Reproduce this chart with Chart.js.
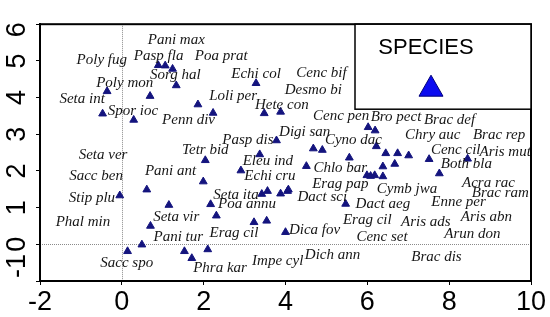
<!DOCTYPE html>
<html>
<head>
<meta charset="utf-8">
<script src="https://cdn.jsdelivr.net/npm/chart.js@4"></script>
<style>
  html, body { margin: 0; padding: 0; background: #fff; }
  #wrap { width: 550px; height: 317px; }
</style>
</head>
<body>
<div id="wrap"><canvas id="chart"></canvas></div>
<script>
// species scores (triangles)
const pointX = [-0.47, -0.36, 0.29, 0.69, 0.89, 1.06, 1.24, 1.33, 1.86, 2.23,
  3.28, 3.48, 3.88, 3.78, 3.37, 2.04, 2.91, 4.51, 1.99, 3.42,
  3.56, 3.88, 4.05, 4.07, 2.17, 2.31, 3.23, 3.54, 4.00, 6.02,
  6.19, 4.68, 4.90, 5.56, 6.22, 6.45, 6.74, 7.01, 7.51, 8.45,
  6.38, 6.67, 5.99, 6.08, 6.18, 6.38, 7.76, 5.47, -0.05, 0.61,
  1.15, 0.70, 0.49, 0.14, 1.53, 1.71, 2.10];
const pointY = [3.56, 4.17, 3.39, 4.04, 4.88, 4.87, 4.78, 4.33, 3.81, 3.58,
  4.39, 3.57, 3.61, 2.83, 2.45, 2.29, 2.01, 2.13, 1.71, 1.37,
  1.45, 1.38, 1.45, 1.49, 1.09, 0.78, 0.60, 0.64, 0.33, 3.19,
  3.10, 2.61, 2.57, 2.36, 2.67, 2.48, 2.48, 2.42, 2.32, 2.33,
  2.12, 2.19, 1.88, 1.86, 1.88, 1.85, 1.93, 1.10, 1.33, 1.49,
  1.07, 0.50, -0.01, -0.19, -0.19, -0.38, -0.14];

// species names, placed where they sit in the plot
const labelNames = ['Pani max', 'Poly fug', 'Pasp fla', 'Poa prat', 'Sorg hal', 'Echi col', 'Cenc bif', 'Desmo bi',
  'Poly mon', 'Seta int', 'Spor ioc', 'Loli per', 'Hete con', 'Penn div', 'Cenc pen', 'Bro pect',
  'Brac def', 'Digi san', 'Cyno dac', 'Chry auc', 'Brac rep', 'Pasp dis', 'Tetr bid', 'Cenc cil',
  'Aris mut', 'Eleu ind', 'Both bla', 'Pani ant', 'Echi cru', 'Chlo bar', 'Seta ver', 'Sacc ben',
  'Erag pap', 'Cymb jwa', 'Acra rac', 'Seta ita', 'Dact sci', 'Brac ram', 'Stip plu', 'Poa annu',
  'Dact aeg', 'Enne per', 'Seta vir', 'Phal min', 'Dica fov', 'Erag cil', 'Erag cil', 'Aris ads',
  'Aris abn', 'Pani tur', 'Cenc set', 'Arun don', 'Sacc spo', 'Phra kar', 'Impe cyl', 'Dich ann',
  'Brac dis'];
const labelX = [1.33, -0.49, 0.90, 2.43, 1.31, 3.28, 4.88, 4.68,
  0.07, -0.97, 0.27, 2.72, 3.91, 1.63, 5.36, 6.70,
  8.01, 4.47, 5.66, 7.60, 9.22, 3.08, 2.04, 8.16,
  9.37, 3.57, 8.42, 1.19, 3.62, 5.34, -0.46, -0.63,
  5.34, 6.97, 8.96, 2.79, 4.90, 9.25, -0.73, 3.06,
  6.38, 8.23, 1.33, -0.95, 4.71, 2.74, 6.00, 7.43,
  8.91, 1.38, 6.36, 8.57, 0.12, 2.40, 3.81, 5.15,
  7.69];
const labelY = [5.56, 5.01, 5.12, 5.12, 4.60, 4.65, 4.68, 4.21,
  4.39, 3.95, 3.62, 4.03, 3.80, 3.39, 3.49, 3.46,
  3.39, 3.07, 2.84, 2.97, 2.97, 2.84, 2.56, 2.56,
  2.51, 2.27, 2.20, 1.99, 1.86, 2.09, 2.43, 1.86,
  1.63, 1.50, 1.68, 1.34, 1.29, 1.40, 1.27, 1.09,
  1.11, 1.16, 0.75, 0.62, 0.39, 0.31, 0.65, 0.62,
  0.75, 0.21, 0.21, 0.28, -0.52, -0.65, -0.47, -0.28,
  -0.34];

const xRange = [-2, 10];
const yRange = [-1, 6];
const legendTitle = 'SPECIES';

const tickFont = { family: '"Liberation Sans", Arial, sans-serif', size: 27 };

const speciesLabels = {
  id: 'speciesLabels',
  afterDatasetsDraw(chart) {
    const { ctx, chartArea: a, scales: { x, y } } = chart;
    ctx.save();
    ctx.beginPath();
    ctx.rect(a.left, a.top, a.right - a.left, a.bottom - a.top);
    ctx.clip();
    ctx.font = 'italic 15px "Liberation Serif", "DejaVu Serif", serif';
    ctx.fillStyle = '#161616';
    ctx.textAlign = 'center';
    ctx.textBaseline = 'middle';
    labelNames.forEach((name, i) => {
      ctx.fillText(name, x.getPixelForValue(labelX[i]), y.getPixelForValue(labelY[i]));
    });
    ctx.restore();
  },
};

const zeroLines = {
  id: 'zeroLines',
  beforeDatasetsDraw(chart) {
    const { ctx, chartArea: a, scales: { x, y } } = chart;
    const px = Math.round(x.getPixelForValue(0)) + 0.5;
    const py = Math.round(y.getPixelForValue(0)) + 0.5;
    ctx.save();
    ctx.strokeStyle = '#8a8a8a';
    ctx.lineWidth = 1;
    ctx.setLineDash([1, 1]);
    ctx.beginPath();
    ctx.moveTo(px, a.top);
    ctx.lineTo(px, a.bottom);
    ctx.moveTo(a.left, py);
    ctx.lineTo(a.right, py);
    ctx.stroke();
    ctx.restore();
  },
};

// y tick labels are turned on their side and kept inside the axis span
const sideTicks = {
  id: 'sideTicks',
  afterDraw(chart) {
    const { ctx, chartArea: a, scales: { y } } = chart;
    ctx.save();
    ctx.font = `${tickFont.size}px ${tickFont.family}`;
    ctx.fillStyle = '#000';
    ctx.textAlign = 'center';
    ctx.textBaseline = 'alphabetic';
    y.ticks.forEach(t => {
      const label = String(t.value);
      const half = ctx.measureText(label).width / 2;
      let py = y.getPixelForValue(t.value);
      py = Math.max(a.top + half - 2, Math.min(a.bottom - half - 3, py));
      ctx.save();
      ctx.translate(25, py);
      ctx.rotate(-Math.PI / 2);
      ctx.fillText(label, 0, 0);
      ctx.restore();
    });
    ctx.restore();
  },
};

const frameAndKey = {
  id: 'frameAndKey',
  afterDraw(chart) {
    const { ctx, chartArea: a } = chart;
    ctx.save();
    ctx.strokeStyle = '#000';
    ctx.lineWidth = 2;
    ctx.strokeRect(a.left, a.top, a.right - a.left, a.bottom - a.top);

    // key box in the top right corner
    const bx = a.right - 176, by = a.top, bw = 176, bh = 85;
    ctx.fillStyle = '#fff';
    ctx.fillRect(bx, by, bw, bh);
    ctx.lineWidth = 1.5;
    ctx.strokeRect(bx, by, bw, bh);
    ctx.fillStyle = '#000';
    ctx.font = '22px "Liberation Sans", Arial, sans-serif';
    ctx.textAlign = 'center';
    ctx.textBaseline = 'middle';
    ctx.fillText(legendTitle, bx + 71, by + 24);

    const tx = bx + 76, ty = by + 62;
    ctx.beginPath();
    ctx.moveTo(tx, ty - 11);
    ctx.lineTo(tx + 12, ty + 10);
    ctx.lineTo(tx - 12, ty + 10);
    ctx.closePath();
    ctx.fillStyle = '#0b0bf0';
    ctx.fill();
    ctx.lineWidth = 1;
    ctx.strokeStyle = '#00007a';
    ctx.stroke();
    ctx.restore();
  },
};

new Chart(document.getElementById('chart'), {
  type: 'scatter',
  data: {
    datasets: [{
      label: legendTitle,
      data: pointX.map((v, i) => ({ x: v, y: pointY[i] })),
      pointStyle: 'triangle',
      pointRadius: 4.5,
      backgroundColor: '#14147e',
      borderColor: '#14147e',
      borderWidth: 1,
    }],
  },
  options: {
    responsive: true,
    maintainAspectRatio: false,
    animation: false,
    layout: { padding: { left: 0, right: 19, top: 10, bottom: 0 } },
    plugins: {
      legend: { display: false },
      tooltip: { enabled: false },
    },
    scales: {
      x: {
        min: xRange[0],
        max: xRange[1],
        ticks: { stepSize: 2, color: '#000', font: tickFont, padding: 1, maxRotation: 0 },
        grid: { drawOnChartArea: false, drawTicks: true, tickLength: 4, tickColor: '#000' },
        border: { color: '#000', width: 2 },
        afterFit(scale) { scale.height = 36; },
      },
      y: {
        min: yRange[0],
        max: yRange[1],
        ticks: { stepSize: 1, color: 'rgba(0,0,0,0)', font: tickFont, padding: 8 },
        grid: { drawOnChartArea: false, drawTicks: true, tickLength: 4, tickColor: '#000' },
        border: { color: '#000', width: 2 },
        afterFit(scale) { scale.width = 40; },
      },
    },
  },
  plugins: [zeroLines, speciesLabels, sideTicks, frameAndKey],
});
</script>
</body>
</html>
